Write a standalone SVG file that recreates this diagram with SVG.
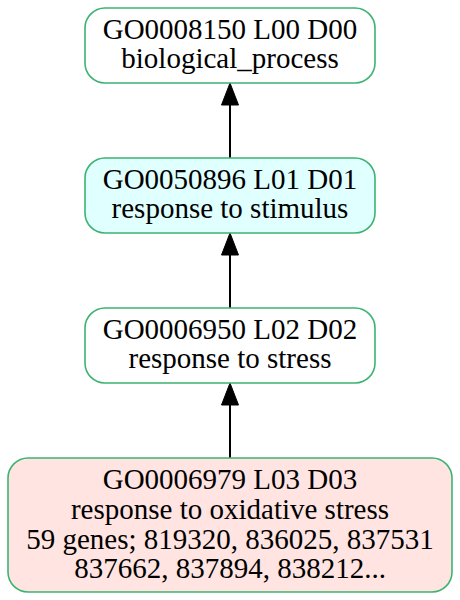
<svg xmlns="http://www.w3.org/2000/svg" width="460" height="600" viewBox="0 0 460 600">
<style>
.node rect { stroke: #3cb371; stroke-width: 1.6; }
.node text { font-family: "Liberation Serif", "Times New Roman", serif; font-size: 29px; fill: #000; text-anchor: middle; }
.edge line { stroke: #000; stroke-width: 2; }
.edge polygon { fill: #000; stroke: #000; stroke-width: 1; }
</style>
<rect width="460" height="600" fill="#fff"/>
<g id="edges" class="edge">
  <line x1="230" y1="158" x2="230" y2="104"/>
  <polygon points="230,83 221.5,105 238.5,105"/>
  <line x1="230" y1="308" x2="230" y2="254"/>
  <polygon points="230,233 221.5,255 238.5,255"/>
  <line x1="230" y1="458" x2="230" y2="404"/>
  <polygon points="230,383 221.5,405 238.5,405"/>
</g>
<g id="GO0008150" class="node">
  <rect x="85" y="8" width="290" height="75" rx="20" ry="20" fill="#ffffff"/>
  <text x="230" y="39">GO0008150 L00 D00</text>
  <text x="230" y="68">biological_process</text>
</g>
<g id="GO0050896" class="node">
  <rect x="85" y="158" width="290" height="75" rx="20" ry="20" fill="#e0ffff"/>
  <text x="230" y="189">GO0050896 L01 D01</text>
  <text x="230" y="218">response to stimulus</text>
</g>
<g id="GO0006950" class="node">
  <rect x="85" y="308" width="290" height="75" rx="20" ry="20" fill="#ffffff"/>
  <text x="230" y="339">GO0006950 L02 D02</text>
  <text x="230" y="368">response to stress</text>
</g>
<g id="GO0006979" class="node">
  <rect x="8" y="458" width="444" height="134" rx="20" ry="20" fill="#ffe4e1"/>
  <text x="230" y="489">GO0006979 L03 D03</text>
  <text x="230" y="519">response to oxidative stress</text>
  <text x="230" y="549">59 genes; 819320, 836025, 837531</text>
  <text x="230" y="578">837662, 837894, 838212...</text>
</g>
</svg>
